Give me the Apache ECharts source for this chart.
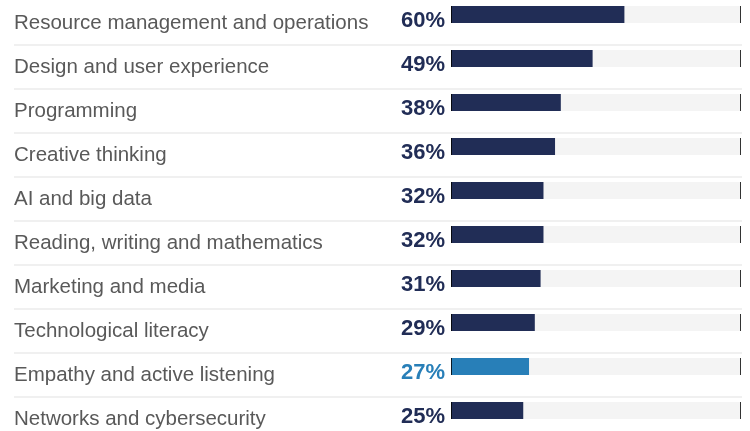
<!DOCTYPE html>
<html><head><meta charset="utf-8">
<script src="https://cdn.jsdelivr.net/npm/echarts@6/dist/echarts.min.js"></script>
<style>html,body{margin:0;padding:0;background:#fff}#c{width:750px;height:431px}</style>
</head><body><div id="c"></div>
<script>
const categories = ["Resource management and operations","Design and user experience","Programming","Creative thinking","AI and big data","Reading, writing and mathematics","Marketing and media","Technological literacy","Empathy and active listening","Networks and cybersecurity"];
const values = [60,49,38,36,32,32,31,29,27,25];
const highlight = "Empathy and active listening";
const trackMax = 100;

const navy = '#212d56', blue = '#287fb8';
const chart = echarts.init(document.getElementById('c'));
chart.setOption({
  animation: false,
  grid: [
    {left: 451, right: 10, top: 14.5, bottom: 20.5},
    {left: 14, right: 8, top: 45, bottom: 34}
  ],
  xAxis: [
    {type: 'value', min: 0, max: trackMax, show: false, gridIndex: 0},
    {type: 'value', min: 0, max: 1, show: false, gridIndex: 1}
  ],
  yAxis: [
    {type: 'category', data: categories, inverse: true, gridIndex: 0, boundaryGap: false,
     axisLine: {show: false}, axisTick: {show: false}, splitLine: {show: false},
     axisLabel: {align: 'left', margin: 437, interval: 0,
       formatter: v => '{a|' + v + '}',
       rich: {a: {fontSize: 20.5, color: '#595959', fontFamily: 'Liberation Sans', padding: [18, 0, 0, 0]}}}},
    {type: 'category', data: categories.slice(0, 8), gridIndex: 1, inverse: true,
     axisLine: {show: false}, axisTick: {show: false}, axisLabel: {show: false},
     splitLine: {show: true, interval: 0, lineStyle: {color: '#f0f0f0', width: 2}}}
  ],
  series: [
    {type: 'bar', name: 'track', data: categories.map(() => trackMax), barWidth: 17, barGap: '-100%',
     itemStyle: {color: '#f4f4f4'}, silent: true, z: 1},
    {type: 'bar', name: 'value', barWidth: 17, z: 2,
     data: values.map((v, i) => ({value: v, itemStyle: {color: categories[i] === highlight ? blue : navy},
       label: {color: categories[i] === highlight ? blue : navy}})),
     label: {show: true, position: 'left', distance: 6, offset: [0, 6], formatter: '{c}%',
       fontSize: 22, fontWeight: 'bold', fontFamily: 'Liberation Sans'}},
    {type: 'scatter', name: 'ends', symbol: 'rect', symbolSize: [1, 17], symbolOffset: [0.5, 0], z: 3, silent: true,
     itemStyle: {color: '#000'},
     data: categories.flatMap(c => [[0, c], [trackMax, c]])}
  ]
});
</script></body></html>
